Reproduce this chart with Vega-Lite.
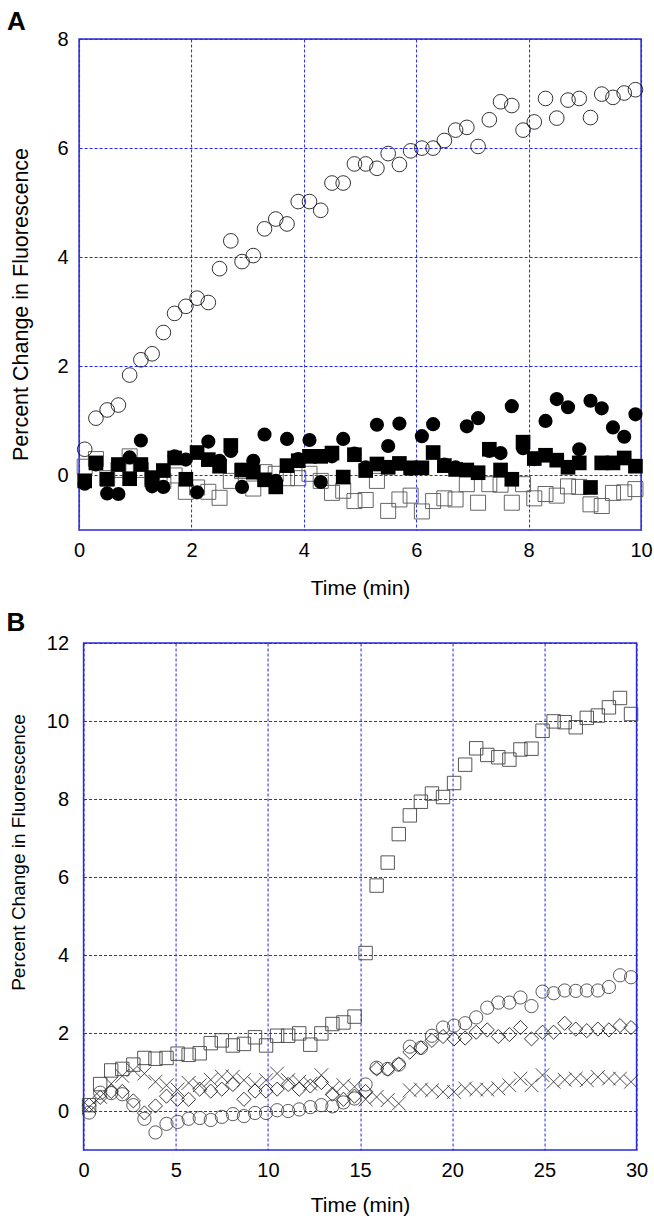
{
  "$schema": "https://vega.github.io/schema/vega-lite/v6.json",
  "padding": {"left": 5, "top": 8, "right": 12, "bottom": 2},
  "background": "white",
  "config": {
    "font": "Liberation Sans",
    "view": {"stroke": "#2a2ad8", "strokeWidth": 1.5},
    "axis": {"domain": false, "ticks": false, "grid": true, "gridColor": "#2626ee", "gridDash": [3, 2], "gridWidth": 1, "gridOpacity": 1, "labelFontSize": 20, "titleFontSize": 21, "labelColor": "#000", "titleColor": "#000", "titleFontWeight": "normal", "labelFont": "Liberation Sans", "titleFont": "Liberation Sans", "labelFlush": false, "labelOverlap": false},
    "title": {"fontSize": 26, "font": "Liberation Sans", "fontWeight": "bold", "anchor": "start", "color": "#000"},
    "concat": {"spacing": 10}
  },
  "center": true,
  "datasets": {
    "A_osq": [{"t":0.1,"v":0.16},{"t":0.3,"v":0.3},{"t":0.5,"v":-0.05},{"t":0.7,"v":0.1},{"t":0.9,"v":0.35},{"t":1.1,"v":0.1},{"t":1.3,"v":-0.07},{"t":1.5,"v":-0.1},{"t":1.7,"v":0.0},{"t":1.9,"v":-0.3},{"t":2.1,"v":-0.22},{"t":2.3,"v":-0.3},{"t":2.5,"v":-0.41},{"t":2.7,"v":-0.1},{"t":2.9,"v":0.08},{"t":3.1,"v":-0.24},{"t":3.3,"v":0.06},{"t":3.5,"v":0.03},{"t":3.7,"v":-0.05},{"t":3.9,"v":-0.05},{"t":4.1,"v":0.03},{"t":4.3,"v":-0.1},{"t":4.5,"v":-0.32},{"t":4.7,"v":-0.28},{"t":4.9,"v":-0.47},{"t":5.1,"v":-0.45},{"t":5.3,"v":-0.1},{"t":5.5,"v":-0.65},{"t":5.7,"v":-0.44},{"t":5.9,"v":-0.37},{"t":6.1,"v":-0.66},{"t":6.3,"v":-0.47},{"t":6.5,"v":-0.42},{"t":6.7,"v":-0.44},{"t":6.9,"v":-0.16},{"t":7.1,"v":-0.5},{"t":7.3,"v":-0.16},{"t":7.5,"v":-0.17},{"t":7.7,"v":-0.5},{"t":7.9,"v":-0.16},{"t":8.1,"v":-0.42},{"t":8.3,"v":-0.34},{"t":8.5,"v":-0.37},{"t":8.7,"v":-0.2},{"t":8.9,"v":-0.21},{"t":9.1,"v":-0.53},{"t":9.3,"v":-0.56},{"t":9.5,"v":-0.32},{"t":9.7,"v":-0.31},{"t":9.9,"v":-0.25}],
    "A_fsq": [{"t":0.1,"v":-0.1},{"t":0.3,"v":0.23},{"t":0.5,"v":-0.07},{"t":0.7,"v":0.2},{"t":0.9,"v":-0.06},{"t":1.1,"v":0.2},{"t":1.3,"v":-0.04},{"t":1.5,"v":0.09},{"t":1.7,"v":0.32},{"t":1.9,"v":-0.07},{"t":2.1,"v":0.42},{"t":2.3,"v":0.29},{"t":2.5,"v":0.17},{"t":2.7,"v":0.55},{"t":2.9,"v":0.1},{"t":3.1,"v":0.06},{"t":3.3,"v":-0.08},{"t":3.5,"v":-0.21},{"t":3.7,"v":0.18},{"t":3.9,"v":0.27},{"t":4.1,"v":0.35},{"t":4.3,"v":0.35},{"t":4.5,"v":0.41},{"t":4.7,"v":-0.03},{"t":4.9,"v":0.38},{"t":5.1,"v":0.09},{"t":5.3,"v":0.21},{"t":5.5,"v":0.15},{"t":5.7,"v":0.22},{"t":5.9,"v":0.14},{"t":6.1,"v":0.14},{"t":6.3,"v":0.42},{"t":6.5,"v":0.18},{"t":6.7,"v":0.11},{"t":6.9,"v":0.1},{"t":7.1,"v":0.05},{"t":7.3,"v":0.48},{"t":7.5,"v":0.1},{"t":7.7,"v":-0.07},{"t":7.9,"v":0.61},{"t":8.1,"v":0.31},{"t":8.3,"v":0.37},{"t":8.5,"v":0.28},{"t":8.7,"v":0.15},{"t":8.9,"v":0.23},{"t":9.1,"v":-0.22},{"t":9.3,"v":0.23},{"t":9.5,"v":0.23},{"t":9.7,"v":0.32},{"t":9.9,"v":0.17}],
    "A_fci": [{"t":0.1,"v":-0.15},{"t":0.3,"v":0.2},{"t":0.5,"v":-0.33},{"t":0.7,"v":-0.34},{"t":0.9,"v":0.33},{"t":1.1,"v":0.64},{"t":1.3,"v":-0.2},{"t":1.5,"v":-0.21},{"t":1.7,"v":0.35},{"t":1.9,"v":0.29},{"t":2.1,"v":-0.31},{"t":2.3,"v":0.62},{"t":2.5,"v":0.27},{"t":2.7,"v":0.45},{"t":2.9,"v":-0.21},{"t":3.1,"v":0.27},{"t":3.3,"v":0.75},{"t":3.5,"v":-0.1},{"t":3.7,"v":0.67},{"t":3.9,"v":0.3},{"t":4.1,"v":0.65},{"t":4.3,"v":-0.12},{"t":4.5,"v":0.35},{"t":4.7,"v":0.67},{"t":4.9,"v":0.4},{"t":5.1,"v":0.15},{"t":5.3,"v":0.93},{"t":5.5,"v":0.54},{"t":5.7,"v":0.95},{"t":5.9,"v":0.12},{"t":6.1,"v":0.72},{"t":6.3,"v":0.94},{"t":6.5,"v":0.2},{"t":6.7,"v":0.15},{"t":6.9,"v":0.9},{"t":7.1,"v":1.05},{"t":7.3,"v":0.45},{"t":7.5,"v":0.41},{"t":7.7,"v":1.27},{"t":7.9,"v":0.5},{"t":8.1,"v":0.3},{"t":8.3,"v":1.0},{"t":8.5,"v":1.4},{"t":8.7,"v":1.25},{"t":8.9,"v":0.48},{"t":9.1,"v":1.37},{"t":9.3,"v":1.23},{"t":9.5,"v":0.88},{"t":9.7,"v":0.71},{"t":9.9,"v":1.12}],
    "A_oci": [{"t":0.1,"v":0.48},{"t":0.3,"v":1.05},{"t":0.5,"v":1.2},{"t":0.7,"v":1.29},{"t":0.9,"v":1.84},{"t":1.1,"v":2.12},{"t":1.3,"v":2.23},{"t":1.5,"v":2.62},{"t":1.7,"v":2.97},{"t":1.9,"v":3.1},{"t":2.1,"v":3.25},{"t":2.3,"v":3.17},{"t":2.5,"v":3.79},{"t":2.7,"v":4.3},{"t":2.9,"v":3.92},{"t":3.1,"v":4.03},{"t":3.3,"v":4.52},{"t":3.5,"v":4.7},{"t":3.7,"v":4.61},{"t":3.9,"v":5.02},{"t":4.1,"v":5.02},{"t":4.3,"v":4.86},{"t":4.5,"v":5.36},{"t":4.7,"v":5.36},{"t":4.9,"v":5.71},{"t":5.1,"v":5.71},{"t":5.3,"v":5.63},{"t":5.5,"v":5.9},{"t":5.7,"v":5.7},{"t":5.9,"v":5.95},{"t":6.1,"v":6.0},{"t":6.3,"v":6.0},{"t":6.5,"v":6.14},{"t":6.7,"v":6.33},{"t":6.9,"v":6.38},{"t":7.1,"v":6.03},{"t":7.3,"v":6.52},{"t":7.5,"v":6.85},{"t":7.7,"v":6.78},{"t":7.9,"v":6.33},{"t":8.1,"v":6.48},{"t":8.3,"v":6.91},{"t":8.5,"v":6.55},{"t":8.7,"v":6.88},{"t":8.9,"v":6.91},{"t":9.1,"v":6.56},{"t":9.3,"v":6.99},{"t":9.5,"v":6.93},{"t":9.7,"v":7.01},{"t":9.9,"v":7.07}],
    "B_sq": [{"t":0.3,"v":0.15},{"t":0.9,"v":0.69},{"t":1.5,"v":1.04},{"t":2.1,"v":1.08},{"t":2.7,"v":1.19},{"t":3.3,"v":1.36},{"t":3.9,"v":1.34},{"t":4.5,"v":1.36},{"t":5.1,"v":1.47},{"t":5.7,"v":1.44},{"t":6.3,"v":1.48},{"t":6.9,"v":1.74},{"t":7.5,"v":1.81},{"t":8.1,"v":1.68},{"t":8.7,"v":1.72},{"t":9.3,"v":1.89},{"t":9.9,"v":1.68},{"t":10.5,"v":1.93},{"t":11.1,"v":1.93},{"t":11.7,"v":1.99},{"t":12.3,"v":1.7},{"t":12.9,"v":1.99},{"t":13.5,"v":2.23},{"t":14.1,"v":2.27},{"t":14.7,"v":2.42},{"t":15.3,"v":4.05},{"t":15.9,"v":5.78},{"t":16.5,"v":6.37},{"t":17.1,"v":7.1},{"t":17.7,"v":7.58},{"t":18.3,"v":7.93},{"t":18.9,"v":8.14},{"t":19.5,"v":8.05},{"t":20.1,"v":8.41},{"t":20.7,"v":8.88},{"t":21.3,"v":9.3},{"t":21.9,"v":9.13},{"t":22.5,"v":9.07},{"t":23.1,"v":9.01},{"t":23.7,"v":9.27},{"t":24.3,"v":9.29},{"t":24.9,"v":9.75},{"t":25.5,"v":9.99},{"t":26.1,"v":9.97},{"t":26.7,"v":9.84},{"t":27.3,"v":10.08},{"t":27.9,"v":10.14},{"t":28.5,"v":10.35},{"t":29.1,"v":10.59},{"t":29.7,"v":10.18}],
    "B_ci": [{"t":0.3,"v":-0.04},{"t":0.9,"v":0.47},{"t":1.5,"v":0.46},{"t":2.1,"v":0.43},{"t":2.7,"v":0.15},{"t":3.3,"v":-0.2},{"t":3.9,"v":-0.55},{"t":4.5,"v":-0.33},{"t":5.1,"v":-0.28},{"t":5.7,"v":-0.2},{"t":6.3,"v":-0.18},{"t":6.9,"v":-0.23},{"t":7.5,"v":-0.15},{"t":8.1,"v":-0.08},{"t":8.7,"v":-0.13},{"t":9.3,"v":-0.05},{"t":9.9,"v":-0.05},{"t":10.5,"v":0.02},{"t":11.1,"v":0.0},{"t":11.7,"v":0.04},{"t":12.3,"v":0.1},{"t":12.9,"v":0.15},{"t":13.5,"v":0.12},{"t":14.1,"v":0.22},{"t":14.7,"v":0.32},{"t":15.3,"v":0.68},{"t":15.9,"v":1.11},{"t":16.5,"v":1.08},{"t":17.1,"v":1.19},{"t":17.7,"v":1.65},{"t":18.3,"v":1.62},{"t":18.9,"v":1.93},{"t":19.5,"v":2.14},{"t":20.1,"v":2.19},{"t":20.7,"v":2.25},{"t":21.3,"v":2.4},{"t":21.9,"v":2.65},{"t":22.5,"v":2.78},{"t":23.1,"v":2.78},{"t":23.7,"v":2.91},{"t":24.3,"v":2.69},{"t":24.9,"v":3.06},{"t":25.5,"v":3.02},{"t":26.1,"v":3.09},{"t":26.7,"v":3.08},{"t":27.3,"v":3.09},{"t":27.9,"v":3.09},{"t":28.5,"v":3.18},{"t":29.1,"v":3.48},{"t":29.7,"v":3.43}],
    "B_di": [{"t":0.3,"v":0.15},{"t":0.9,"v":0.35},{"t":1.5,"v":0.5},{"t":2.1,"v":0.5},{"t":2.7,"v":0.26},{"t":3.3,"v":-0.05},{"t":3.9,"v":0.13},{"t":4.5,"v":0.38},{"t":5.1,"v":0.3},{"t":5.7,"v":0.3},{"t":6.3,"v":0.56},{"t":6.9,"v":0.51},{"t":7.5,"v":0.56},{"t":8.1,"v":0.68},{"t":8.7,"v":0.3},{"t":9.3,"v":0.51},{"t":9.9,"v":0.51},{"t":10.5,"v":0.56},{"t":11.1,"v":0.68},{"t":11.7,"v":0.56},{"t":12.3,"v":0.64},{"t":12.9,"v":0.73},{"t":13.5,"v":0.43},{"t":14.1,"v":0.3},{"t":14.7,"v":0.38},{"t":15.3,"v":0.5},{"t":15.9,"v":1.08},{"t":16.5,"v":1.07},{"t":17.1,"v":1.2},{"t":17.7,"v":1.51},{"t":18.3,"v":1.62},{"t":18.9,"v":1.81},{"t":19.5,"v":1.91},{"t":20.1,"v":1.85},{"t":20.7,"v":1.87},{"t":21.3,"v":2.02},{"t":21.9,"v":2.08},{"t":22.5,"v":1.91},{"t":23.1,"v":1.96},{"t":23.7,"v":2.14},{"t":24.3,"v":1.85},{"t":24.9,"v":2.02},{"t":25.5,"v":2.02},{"t":26.1,"v":2.25},{"t":26.7,"v":2.1},{"t":27.3,"v":2.06},{"t":27.9,"v":2.1},{"t":28.5,"v":2.08},{"t":29.1,"v":2.19},{"t":29.7,"v":2.14}],
    "B_x": [{"t":0.3,"v":0.1},{"t":0.9,"v":0.36},{"t":1.5,"v":0.7},{"t":2.1,"v":0.9},{"t":2.7,"v":1.05},{"t":3.3,"v":0.96},{"t":3.9,"v":0.75},{"t":4.5,"v":0.66},{"t":5.1,"v":0.55},{"t":5.7,"v":0.72},{"t":6.3,"v":0.66},{"t":6.9,"v":0.8},{"t":7.5,"v":0.88},{"t":8.1,"v":0.88},{"t":8.7,"v":0.79},{"t":9.3,"v":0.7},{"t":9.9,"v":0.79},{"t":10.5,"v":0.96},{"t":11.1,"v":0.79},{"t":11.7,"v":0.75},{"t":12.3,"v":0.7},{"t":12.9,"v":0.92},{"t":13.5,"v":0.58},{"t":14.1,"v":0.66},{"t":14.7,"v":0.62},{"t":15.3,"v":0.3},{"t":15.9,"v":0.36},{"t":16.5,"v":0.28},{"t":17.1,"v":0.19},{"t":17.7,"v":0.53},{"t":18.3,"v":0.55},{"t":18.9,"v":0.53},{"t":19.5,"v":0.49},{"t":20.1,"v":0.49},{"t":20.7,"v":0.58},{"t":21.3,"v":0.55},{"t":21.9,"v":0.55},{"t":22.5,"v":0.58},{"t":23.1,"v":0.66},{"t":23.7,"v":0.83},{"t":24.3,"v":0.66},{"t":24.9,"v":0.92},{"t":25.5,"v":0.75},{"t":26.1,"v":0.8},{"t":26.7,"v":0.83},{"t":27.3,"v":0.79},{"t":27.9,"v":0.87},{"t":28.5,"v":0.83},{"t":29.1,"v":0.83},{"t":29.7,"v":0.75}]
  },
  "vconcat": [
    {
      "title": {"text": "A", "frame": "bounds", "dx": -3, "offset": -6},
      "width": 562,
      "height": 491,
      "encoding": {
        "x": {"field": "t", "type": "quantitative", "scale": {"domain": [0, 10], "nice": false, "zero": false},
              "axis": {"title": "Time (min)", "values": [0, 2, 4, 6, 8, 10], "labelPadding": 10, "titlePadding": 17}},
        "y": {"field": "v", "type": "quantitative", "scale": {"domain": [-1, 8], "nice": false, "zero": false},
              "axis": {"title": "Percent Change in Fluorescence", "titleFontSize": 21.5, "titleY": 265, "titleX": -47, "values": [0, 2, 4, 6, 8], "labelPadding": 11}}
      },
      "layer": [
        {"data": {"name": "A_osq"}, "mark": {"type": "point", "shape": "square", "filled": false, "color": "#555555", "strokeWidth": 0.9, "size": 225, "opacity": 1}},
        {"data": {"name": "A_fsq"}, "mark": {"type": "point", "shape": "square", "filled": true, "color": "#000000", "size": 215, "opacity": 1}},
        {"data": {"name": "A_fci"}, "mark": {"type": "point", "shape": "circle", "filled": true, "color": "#000000", "size": 200, "opacity": 1}},
        {"data": {"name": "A_oci"}, "mark": {"type": "point", "shape": "circle", "filled": false, "color": "#000000", "strokeWidth": 0.8, "size": 215, "opacity": 1}}
      ]
    },
    {
      "title": {"text": "B", "frame": "bounds", "dx": -3, "offset": -3},
      "width": 553,
      "height": 507,
      "encoding": {
        "x": {"field": "t", "type": "quantitative", "scale": {"domain": [0, 30], "nice": false, "zero": false},
              "axis": {"title": "Time (min)", "values": [0, 5, 10, 15, 20, 25, 30], "labelPadding": 10, "titlePadding": 14}},
        "y": {"field": "v", "type": "quantitative", "scale": {"domain": [-1, 12], "nice": false, "zero": false},
              "axis": {"title": "Percent Change in Fluorescence", "titleFontSize": 19, "titleY": 209, "titleX": -55, "values": [0, 2, 4, 6, 8, 10, 12], "labelPadding": 15}}
      },
      "layer": [
        {"data": {"name": "B_x"}, "mark": {"type": "point", "shape": "M-1,-1L1,1M-1,1L1,-1", "filled": false, "color": "#222222", "strokeWidth": 0.8, "size": 190, "opacity": 1}},
        {"data": {"name": "B_di"}, "mark": {"type": "point", "shape": "diamond", "filled": false, "color": "#222222", "strokeWidth": 0.9, "size": 200, "opacity": 1}},
        {"data": {"name": "B_ci"}, "mark": {"type": "point", "shape": "circle", "filled": false, "color": "#333333", "strokeWidth": 0.8, "size": 175, "opacity": 1}},
        {"data": {"name": "B_sq"}, "mark": {"type": "point", "shape": "square", "filled": false, "color": "#444444", "strokeWidth": 0.9, "size": 180, "opacity": 1}}
      ]
    }
  ]
}
